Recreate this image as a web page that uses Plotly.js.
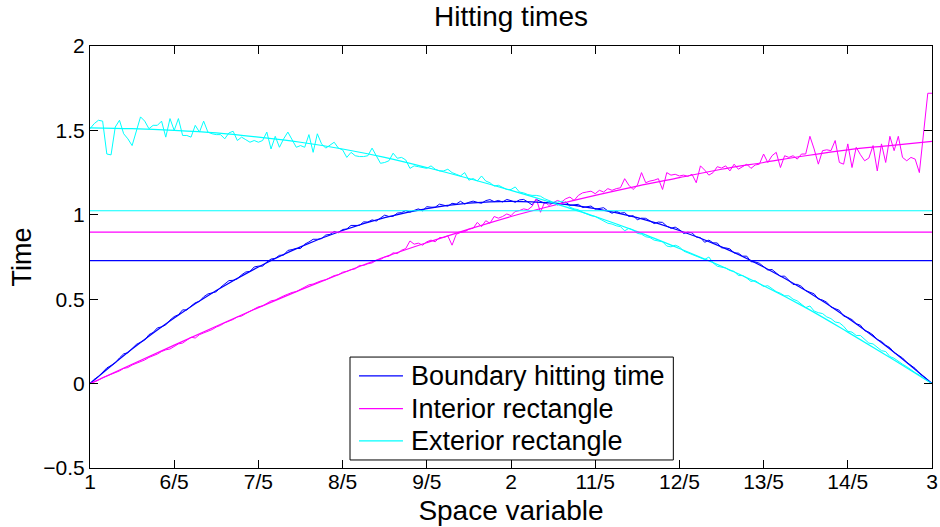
<!DOCTYPE html>
<html>
<head>
<meta charset="utf-8">
<script src="https://cdn.plot.ly/plotly-3.0.1.min.js"></script>
<style>html,body{margin:0;padding:0;background:#fff;}#chart{width:940px;height:527px;}</style>
</head>
<body>
<div id="chart"></div>
<script>
// ---- data ----
const chartTitle = "Hitting times";
const xTitle = "Space variable";
const yTitle = "Time";
const seriesNames = ["Boundary hitting time", "Interior rectangle", "Exterior rectangle"];

const xTickVals = [1, 1.2, 1.4, 1.6, 1.8, 2, 2.2, 2.4, 2.6, 2.8, 3];
const xTickText = ["1", "6/5", "7/5", "8/5", "9/5", "2", "11/5", "12/5", "13/5", "14/5", "3"];
const yTickVals = [-0.5, 0, 0.5, 1, 1.5, 2];
const yTickText = ["\u22120.5", "0", "0.5", "1", "1.5", "2"];

// sampling grids
const fineStart = 1, fineStep = 0.01, fineCount = 201;
const coarseStart = 1, coarseStep = 0.1, coarseCount = 21;

// smooth (expected) curves, sampled every 0.1
const boundarySmooth = [0, 0.205, 0.389, 0.551, 0.691, 0.810, 0.907, 0.983, 1.037, 1.069, 1.080, 1.069, 1.037, 0.983, 0.907, 0.810, 0.691, 0.551, 0.389, 0.205, 0];
const interiorSmooth = [0, 0.115, 0.228, 0.34, 0.45, 0.555, 0.655, 0.75, 0.835, 0.915, 0.99, 1.055, 1.115, 1.17, 1.22, 1.27, 1.31, 1.35, 1.385, 1.41, 1.435];
const exteriorSmooth = [1.515, 1.51, 1.50, 1.485, 1.46, 1.43, 1.39, 1.34, 1.28, 1.215, 1.145, 1.07, 0.99, 0.90, 0.80, 0.695, 0.58, 0.45, 0.305, 0.155, 0.0];

// simulated (noisy) curves, sampled every 0.01
const boundaryNoisy = [0,0.025,0.041,0.069,0.093,0.107,0.122,0.152,0.176,0.183,
0.209,0.232,0.245,0.258,0.290,0.303,0.330,0.336,0.348,0.376,
0.397,0.408,0.437,0.436,0.459,0.479,0.487,0.514,0.531,0.537,
0.544,0.570,0.589,0.610,0.612,0.621,0.644,0.661,0.665,0.691,
0.696,0.696,0.720,0.738,0.742,0.760,0.761,0.789,0.794,0.801,
0.800,0.826,0.839,0.855,0.855,0.859,0.880,0.884,0.901,0.894,
0.913,0.916,0.937,0.939,0.937,0.958,0.957,0.970,0.963,0.981,
0.998,0.990,0.991,1.010,1.013,1.025,1.016,1.026,1.035,1.024,
1.048,1.045,1.045,1.063,1.058,1.051,1.068,1.064,1.080,1.064,
1.074,1.081,1.074,1.068,1.084,1.090,1.078,1.085,1.076,1.091,
1.084,1.074,1.088,1.091,1.076,1.059,1.091,1.079,1.068,1.080,
1.071,1.059,1.071,1.075,1.056,1.061,1.062,1.043,1.048,1.052,
1.033,1.038,1.042,1.023,1.009,1.021,1.010,1.013,0.990,0.995,
0.971,0.980,0.979,0.964,0.948,0.957,0.955,0.933,0.920,0.927,
0.912,0.889,0.897,0.893,0.869,0.865,0.837,0.850,0.834,0.833,
0.804,0.804,0.798,0.774,0.773,0.755,0.755,0.722,0.721,0.713,
0.692,0.673,0.676,0.657,0.635,0.637,0.612,0.587,0.588,0.576,
0.551,0.541,0.532,0.501,0.495,0.482,0.454,0.444,0.434,0.400,
0.392,0.379,0.355,0.346,0.314,0.305,0.288,0.260,0.250,0.227,
0.213,0.184,0.170,0.152,0.126,0.108,0.090,0.062,0.045,0.023,
0];

const interiorNoisy = [0,0.01,0.02,0.035,0.045,0.055,0.065,0.075,0.09,0.095,
0.11,0.12,0.13,0.14,0.155,0.165,0.175,0.19,0.2,0.205,
0.22,0.235,0.24,0.26,0.275,0.27,0.29,0.30,0.31,0.32,
0.335,0.345,0.36,0.37,0.38,0.395,0.40,0.415,0.43,0.44,
0.455,0.46,0.475,0.49,0.495,0.51,0.52,0.53,0.54,0.545,
0.56,0.57,0.585,0.59,0.60,0.61,0.615,0.63,0.64,0.645,
0.66,0.665,0.675,0.68,0.70,0.70,0.71,0.715,0.73,0.735,
0.75,0.755,0.775,0.77,0.79,0.80,0.845,0.826,0.832,0.82,
0.84,0.85,0.84,0.865,0.866,0.875,0.82,0.885,0.895,0.90,
0.915,0.92,0.955,0.93,0.965,0.95,0.99,0.98,0.99,1.005,
0.995,1.02,1.025,1.035,1.03,1.05,1.095,1.015,1.076,1.056,
1.07,1.085,1.076,1.095,1.105,1.085,1.115,1.13,1.135,1.14,
1.125,1.145,1.135,1.155,1.145,1.155,1.16,1.214,1.175,1.15,
1.174,1.25,1.19,1.20,1.205,1.214,1.15,1.25,1.235,1.24,
1.23,1.235,1.228,1.24,1.19,1.29,1.265,1.235,1.25,1.285,
1.277,1.29,1.26,1.30,1.27,1.285,1.30,1.275,1.295,1.30,
1.36,1.31,1.35,1.37,1.28,1.35,1.34,1.35,1.33,1.36,
1.36,1.465,1.39,1.30,1.38,1.385,1.38,1.44,1.31,1.30,
1.42,1.28,1.40,1.356,1.32,1.336,1.41,1.26,1.42,1.31,
1.465,1.38,1.465,1.34,1.32,1.34,1.33,1.25,1.48,1.72,
1.72];

const exteriorNoisy = [1.51,1.54,1.56,1.555,1.36,1.355,1.52,1.56,1.48,1.45,
1.41,1.49,1.58,1.555,1.51,1.53,1.53,1.555,1.46,1.57,
1.50,1.57,1.47,1.47,1.46,1.53,1.49,1.555,1.49,1.48,
1.475,1.475,1.45,1.485,1.495,1.44,1.46,1.445,1.43,1.44,
1.43,1.44,1.49,1.39,1.465,1.40,1.45,1.49,1.445,1.40,
1.41,1.40,1.475,1.37,1.48,1.42,1.395,1.415,1.43,1.395,
1.385,1.34,1.37,1.35,1.345,1.345,1.35,1.395,1.345,1.305,
1.31,1.32,1.365,1.335,1.34,1.325,1.275,1.29,1.285,1.28,
1.275,1.29,1.27,1.26,1.26,1.27,1.25,1.24,1.23,1.25,
1.205,1.215,1.20,1.23,1.20,1.19,1.17,1.175,1.16,1.15,
1.15,1.165,1.135,1.13,1.12,1.115,1.115,1.11,1.095,1.085,
1.075,1.075,1.08,1.07,1.045,1.035,1.03,1.015,1.005,0.995,
0.99,0.975,0.965,0.95,0.945,0.935,0.93,0.905,0.92,0.91,
0.89,0.885,0.87,0.865,0.85,0.845,0.84,0.815,0.81,0.82,
0.81,0.785,0.775,0.765,0.755,0.745,0.735,0.75,0.715,0.695,
0.69,0.685,0.67,0.665,0.64,0.64,0.625,0.605,0.61,0.59,
0.575,0.58,0.56,0.545,0.535,0.52,0.52,0.50,0.49,0.47,
0.45,0.46,0.43,0.42,0.415,0.395,0.385,0.365,0.36,0.34,
0.31,0.305,0.285,0.285,0.26,0.24,0.235,0.215,0.195,0.19,
0.16,0.15,0.13,0.115,0.10,0.08,0.065,0.05,0.03,0.015,
0.0];

// horizontal reference levels
const boundaryLevel = 0.728;
const interiorLevel = 0.897;
const exteriorLevel = 1.024;

const colors = ["#0000ff", "#ff00ff", "#00ffff"];

// ---- build ----
const fineX = [];
for (let i = 0; i < fineCount; i++) fineX.push(+(fineStart + i * fineStep).toFixed(4));
const coarseX = [];
for (let i = 0; i < coarseCount; i++) coarseX.push(+(coarseStart + i * coarseStep).toFixed(4));
const xEnds = [xTickVals[0], xTickVals[xTickVals.length - 1]];

const smooth = [boundarySmooth, interiorSmooth, exteriorSmooth];
const noisy = [boundaryNoisy, interiorNoisy, exteriorNoisy];
const levels = [boundaryLevel, interiorLevel, exteriorLevel];

const traces = [];
for (let s = 0; s < 3; s++) {
  traces.push({x: fineX, y: noisy[s], type: "scatter", mode: "lines", name: seriesNames[s] + " (simulated)",
    line: {color: colors[s], width: 1}, showlegend: false, hoverinfo: "skip"});
}
for (let s = 0; s < 3; s++) {
  traces.push({x: coarseX, y: smooth[s], type: "scatter", mode: "lines", name: seriesNames[s],
    line: {color: colors[s], width: 1.2, shape: "spline", smoothing: 1}, showlegend: false});
}
for (let s = 0; s < 3; s++) {
  traces.push({x: xEnds, y: [levels[s], levels[s]], type: "scatter", mode: "lines",
    name: seriesNames[s] + " (mean)", line: {color: colors[s], width: 1.2}, showlegend: false});
}

const font = "Liberation Sans, Arial, Helvetica, sans-serif";

// legend box drawn in paper coordinates (MATLAB-style legend)
const legBox = {x0: 0.3088, x1: 0.6928, y0: 0.019, y1: 0.2629};
const legLineX = [0.3195, 0.3717];
const legTextX = 0.3789;
const legRowY = [0.2185, 0.1409, 0.0641];

const shapes = [{type: "rect", xref: "paper", yref: "paper", x0: legBox.x0, x1: legBox.x1,
  y0: legBox.y0, y1: legBox.y1, line: {color: "#000", width: 1}, fillcolor: "#fff", layer: "above"}];
const annotations = [];
for (let s = 0; s < 3; s++) {
  shapes.push({type: "line", xref: "paper", yref: "paper", x0: legLineX[0], x1: legLineX[1],
    y0: legRowY[s], y1: legRowY[s], line: {color: colors[s], width: 1.2}, layer: "above"});
  annotations.push({xref: "paper", yref: "paper", x: legTextX, y: legRowY[s], xanchor: "left",
    yanchor: "middle", showarrow: false, text: seriesNames[s],
    font: {family: font, size: 27, color: "#000"}});
}

const axisCommon = {
  showgrid: false, zeroline: false, showline: true, linecolor: "#000", linewidth: 1,
  mirror: "ticks", ticks: "inside", ticklen: 8, tickcolor: "#000", tickwidth: 1,
  tickfont: {family: font, size: 21, color: "#000"}, tickmode: "array"
};

const layout = {
  width: 940, height: 527,
  margin: {l: 90, r: 8, t: 46, b: 59},
  paper_bgcolor: "#fff", plot_bgcolor: "#fff",
  font: {family: font, color: "#000"},
  title: {text: chartTitle, font: {family: font, size: 28, color: "#000"},
    xref: "paper", x: 0.5, xanchor: "center", yref: "container", y: 0.97, yanchor: "middle"},
  xaxis: Object.assign({}, axisCommon, {range: [1, 3], tickvals: xTickVals, ticktext: xTickText,
    ticklabelstandoff: -5,
    title: {text: xTitle, font: {family: font, size: 28, color: "#000"}, standoff: 8}}),
  yaxis: Object.assign({}, axisCommon, {range: [-0.5, 2], tickvals: yTickVals, ticktext: yTickText,
    title: {text: yTitle, font: {family: font, size: 27, color: "#000"}, standoff: 3}}),
  shapes: shapes,
  annotations: annotations,
  showlegend: false
};

Plotly.newPlot("chart", traces, layout, {staticPlot: true, displayModeBar: false});
</script>
</body>
</html>
